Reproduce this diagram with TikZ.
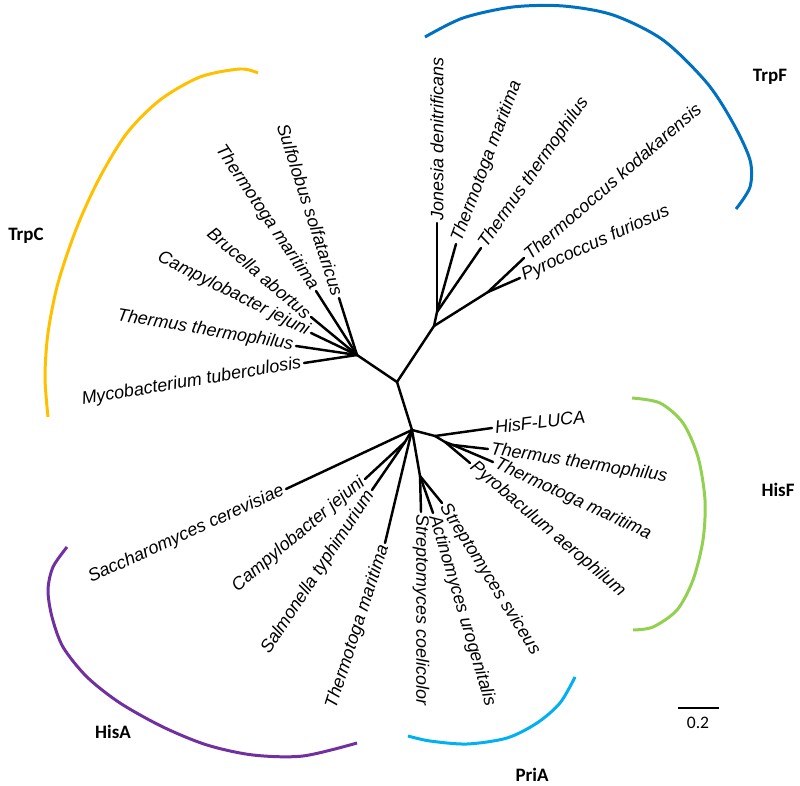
\documentclass[tikz,border=0pt]{standalone}
\usepackage{fontspec}
\setmainfont{Liberation Sans}
\newfontfamily\grpfont{Carlito}
\definecolor{trpfcol}{RGB}{0,112,192}
\definecolor{trpccol}{RGB}{255,192,0}
\definecolor{hisfcol}{RGB}{146,208,80}
\definecolor{priacol}{RGB}{0,176,240}
\definecolor{hisacol}{RGB}{112,48,160}

\begin{document}
\begin{tikzpicture}[x=0.02cm, y=-0.02cm,
  br/.style={line width=1.4pt, line cap=round},
  tipr/.style={font=\fontsize{10.2}{12}\selectfont\itshape, anchor=west,
               inner sep=1.5pt},
  tipl/.style={font=\fontsize{10.2}{12}\selectfont\itshape, anchor=east,
               inner sep=1.5pt},
  grp/.style={font=\grpfont\bfseries\fontsize{10.8}{13}\selectfont},
  clade/.style={line width=1.7pt},
]
\useasboundingbox (0,0) rectangle (800,786);

% ---- Internal nodes ----
\coordinate (root) at (397,382);
\coordinate (ctr)  at (357,355);
\coordinate (ftr)  at (434,326);
\coordinate (fa)   at (437,312);
\coordinate (fb)   at (488,292);
\coordinate (low)  at (412,430);
\coordinate (hf1)  at (435,436);
\coordinate (hf2)  at (445,442);
\coordinate (hf3)  at (453,445);
\coordinate (pa)   at (420,476);
\coordinate (ha)   at (405,442);

% ---- TrpF leaves ----
\node[tipr, rotate=90]   (jon) at (437,223) {Jonesia denitrificans};
\node[tipr, rotate=69.5] (tmf) at (456,244) {Thermotoga maritima};
\node[tipr, rotate=55]   (ttf) at (481,248) {Thermus thermophilus};
\node[tipr, rotate=41]   (tko) at (524,258) {Thermococcus kodakarensis};
\node[tipr, rotate=24.5] (pfu) at (520,278) {Pyrococcus furiosus};

% ---- TrpC leaves ----
\node[tipl, rotate=-72]   (sso) at (339,298) {Sulfolobus solfataricus};
\node[tipl, rotate=-56]   (tmc) at (316,291) {Thermotoga maritima};
\node[tipl, rotate=-40.5] (bab) at (311,317) {Brucella abortus};
\node[tipl, rotate=-26.6] (cjc) at (311,333) {Campylobacter jejuni};
\node[tipl, rotate=-9.6]  (ttc) at (296,346) {Thermus thermophilus};
\node[tipl, rotate=9.5]   (mtb) at (304,363) {Mycobacterium tuberculosis};

% ---- HisF leaves ----
\node[tipr, rotate=7]     (luca) at (492,428) {HisF-LUCA};
\node[tipr, rotate=-9]    (tth)  at (488,449) {Thermus thermophilus};
\node[tipr, rotate=-25]   (tma)  at (493,462) {Thermotoga maritima};
\node[tipr, rotate=-40.5] (pae)  at (470,463) {Pyrobaculum aerophilum};

% ---- PriA leaves ----
\node[tipr, rotate=-90]   (sco) at (421,512) {Streptomyces coelicolor};
\node[tipr, rotate=-73.5] (aur) at (433,513) {Actinomyces urogenitalis};
\node[tipr, rotate=-58]   (ssv) at (442,503) {Streptomyces sviceus};

% ---- HisA leaves ----
\node[tipl, rotate=24.5] (sce) at (286,489) {Saccharomyces cerevisiae};
\node[tipl, rotate=40]   (cjh) at (365,479) {Campylobacter jejuni};
\node[tipl, rotate=56.7] (sty) at (372,490) {Salmonella typhimurium};
\node[tipl, rotate=72]   (tmh) at (385,543) {Thermotoga maritima};

% ---- Branches ----
\foreach \a/\b in {root/ctr, root/ftr, root/low, ftr/fa, ftr/fb, hf1/hf2,
                   hf2/hf3, low/hf1, low/pa, low/ha}
  \draw[br] (\a) -- (\b);
\foreach \a/\b in {fa/jon, fa/tmf, fa/ttf, fb/tko, fb/pfu, hf1/luca,
                   hf3/tth, hf3/tma, hf2/pae, pa/sco, pa/aur, pa/ssv}
  \draw[br] (\a) -- (\b.west);
\foreach \a/\b in {ctr/sso, ctr/tmc, ctr/bab, ctr/cjc, ctr/ttc, ctr/mtb,
                   low/sce, ha/cjh, ha/sty, low/tmh}
  \draw[br] (\a) -- (\b.east);

% ---- Clade arcs ----
\draw[clade, trpfcol] plot[smooth] coordinates {
  (425,37) (463,18) (513,7) (563,6) (613,15) (663,40) (707,83)
  (733,123) (750,160) (750,187) (736,209)};
\draw[clade, trpccol] plot[smooth] coordinates {
  (258,73) (240,69) (200,77) (160,100) (127,133) (100,177) (77,227)
  (58,283) (48,333) (45,377) (48,417)};
\draw[clade, hisfcol] plot[smooth] coordinates {
  (632,398) (660,403) (683,423) (698,457) (705,500) (703,540)
  (693,580) (677,610) (653,627) (633,630)};
\draw[clade, priacol] plot[smooth] coordinates {
  (575,677) (560,703) (537,723) (507,738) (467,744) (430,741) (408,736)};
\draw[clade, hisacol] plot[smooth] coordinates {
  (67,547) (53,567) (48,590) (52,617) (63,647) (87,677) (120,703)
  (163,727) (207,745) (253,755) (303,756) (357,743)};

% ---- Clade names ----
\node[grp] (ltrpf) at (770,77)  {TrpF};
\node[grp] (ltrpc) at (26,236)  {TrpC};
\node[grp] (lhisf) at (778,490) {HisF};
\node[grp] (lhisa) at (113,732) {HisA};
\node[grp] (lpria) at (532,775) {PriA};

% ---- Scale bar ----
\coordinate (sb1) at (678,708);
\coordinate (sb2) at (719,708);
\draw[line width=1.5pt] (sb1) -- (sb2);
\node[font=\grpfont\fontsize{10}{12}\selectfont] (sblab) at (698,723) {0.2};
\end{tikzpicture}
\end{document}
